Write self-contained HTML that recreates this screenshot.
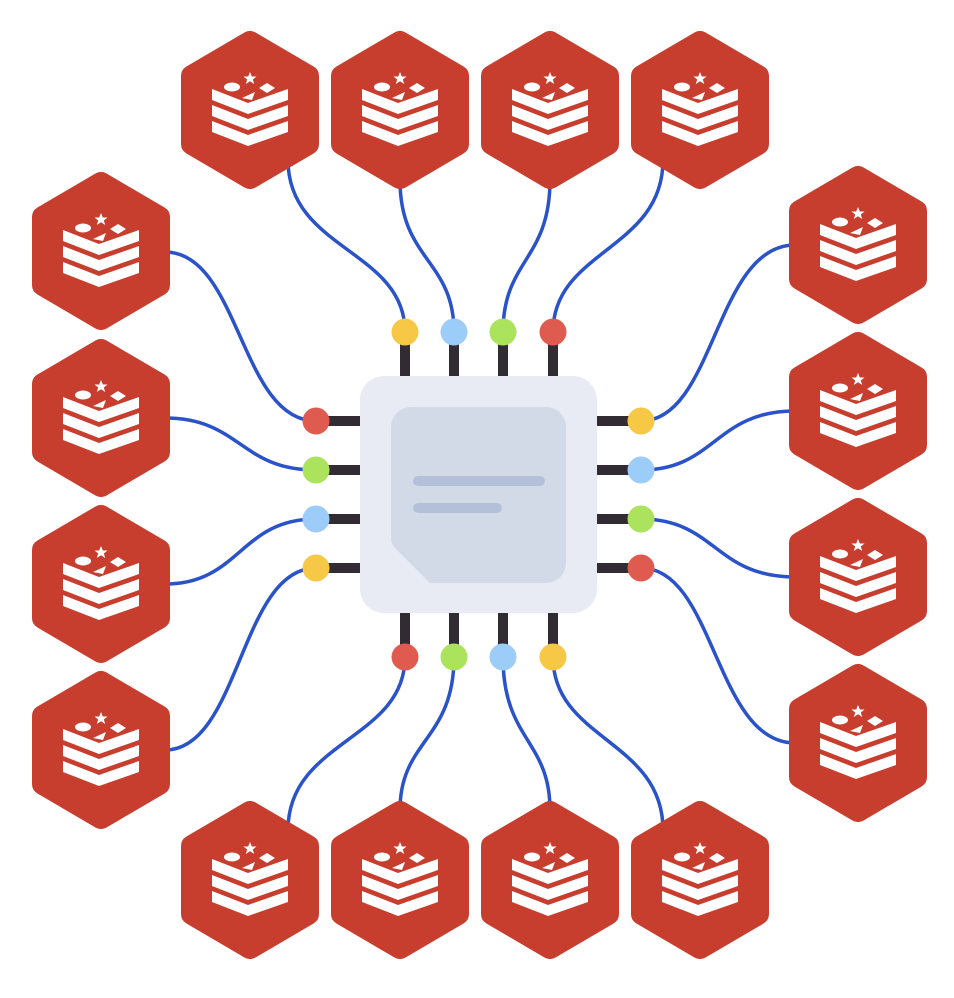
<!DOCTYPE html>
<html><head><meta charset="utf-8"><style>html,body{margin:0;padding:0;background:#fff}svg{display:block}</style></head>
<body>
<svg width="954" height="998" viewBox="0 0 954 998" xmlns="http://www.w3.org/2000/svg">
<defs>
<g id="hx">
<polygon points="0,-68 58,-34 58,34 0,68 -58,34 -58,-34" fill="#c73e2f" stroke="#c73e2f" stroke-width="22" stroke-linejoin="round"/>
<g fill="#fff">
<polygon points="-38,-21 -2,-7 38,-21 38,-10 -2,4 -38,-10"/>
<polygon points="-38,-5 -2,9 38,-5 38,6 -2,20 -38,6"/>
<polygon points="-38,11 -2,25 38,11 38,22 -2,36 -38,22"/>
<polygon points="0,-38 1.8,-33.5 6.5,-33.5 2.8,-30.5 4.2,-26 0,-28.8 -4.2,-26 -2.8,-30.5 -6.5,-33.5 -1.8,-33.5"/>
<ellipse cx="-18" cy="-23" rx="8" ry="4.5"/>
<polygon points="17,-27 25,-22 17,-17 9,-22"/>
<polygon points="-8,-12 5,-18 2,-10"/>
</g>
</g>
</defs>
<g fill="none" stroke="#2a52c9" stroke-width="3.5">
<path d="M288,160 C288,250 405,250 405,332"/>
<path d="M400,180 C400,260 454,260 454,332"/>
<path d="M550,180 C550,260 503,260 503,332"/>
<path d="M663,160 C663,250 553,250 553,332"/>
<path d="M165,252 C240,252 240,421 316,421"/>
<path d="M165,418 C240,418 240,470 316,470"/>
<path d="M165,584 C240,584 240,519 316,519"/>
<path d="M165,750 C240,750 240,568 316,568"/>
<path d="M795,245 C715,245 715,421 641,421"/>
<path d="M795,411 C715,411 715,470 641,470"/>
<path d="M795,577 C715,577 715,519 641,519"/>
<path d="M795,743 C715,743 715,568 641,568"/>
<path d="M405,657 C405,740 288,740 288,830"/>
<path d="M454,657 C454,740 400,740 400,810"/>
<path d="M503,657 C503,740 550,740 550,810"/>
<path d="M553,657 C553,740 663,740 663,830"/>
</g>
<g stroke="#322b33" stroke-width="10">
<path d="M405,340V378M454,340V378M503,340V378M553,340V378"/>
<path d="M405,612V650M454,612V650M503,612V650M553,612V650"/>
<path d="M322,421H362M322,470H362M322,519H362M322,568H362"/>
<path d="M595,421H635M595,470H635M595,519H635M595,568H635"/>
</g>
<rect x="360" y="376" width="237" height="237" rx="24" fill="#e8ebf4"/>
<path d="M411,407 H546 a20,20 0 0 1 20,20 V563 a20,20 0 0 1 -20,20 H430 L396,549 a15,15 0 0 1 -5,-10 V427 a20,20 0 0 1 20,-20Z" fill="#d3dae7"/>
<rect x="413" y="476" width="132" height="10" rx="5" fill="#b4c0da"/>
<rect x="413" y="503" width="89" height="10" rx="5" fill="#b4c0da"/>
<g>
<circle cx="405" cy="332" r="13.5" fill="#f6c845"/><circle cx="454" cy="332" r="13.5" fill="#9bcdf8"/><circle cx="503" cy="332" r="13.5" fill="#abe35d"/><circle cx="553" cy="332" r="13.5" fill="#e05b4f"/>
<circle cx="316" cy="421" r="13.5" fill="#e05b4f"/><circle cx="316" cy="470" r="13.5" fill="#abe35d"/><circle cx="316" cy="519" r="13.5" fill="#9bcdf8"/><circle cx="316" cy="568" r="13.5" fill="#f6c845"/>
<circle cx="641" cy="421" r="13.5" fill="#f6c845"/><circle cx="641" cy="470" r="13.5" fill="#9bcdf8"/><circle cx="641" cy="519" r="13.5" fill="#abe35d"/><circle cx="641" cy="568" r="13.5" fill="#e05b4f"/>
<circle cx="405" cy="657" r="13.5" fill="#e05b4f"/><circle cx="454" cy="657" r="13.5" fill="#abe35d"/><circle cx="503" cy="657" r="13.5" fill="#9bcdf8"/><circle cx="553" cy="657" r="13.5" fill="#f6c845"/>
</g>
<use href="#hx" x="250" y="110"/><use href="#hx" x="400" y="110"/><use href="#hx" x="550" y="110"/><use href="#hx" x="700" y="110"/>
<use href="#hx" x="250" y="880"/><use href="#hx" x="400" y="880"/><use href="#hx" x="550" y="880"/><use href="#hx" x="700" y="880"/>
<use href="#hx" x="101" y="251"/><use href="#hx" x="101" y="418"/><use href="#hx" x="101" y="584"/><use href="#hx" x="101" y="750"/>
<use href="#hx" x="858" y="245"/><use href="#hx" x="858" y="411"/><use href="#hx" x="858" y="577"/><use href="#hx" x="858" y="743"/>
</svg>
</body></html>
